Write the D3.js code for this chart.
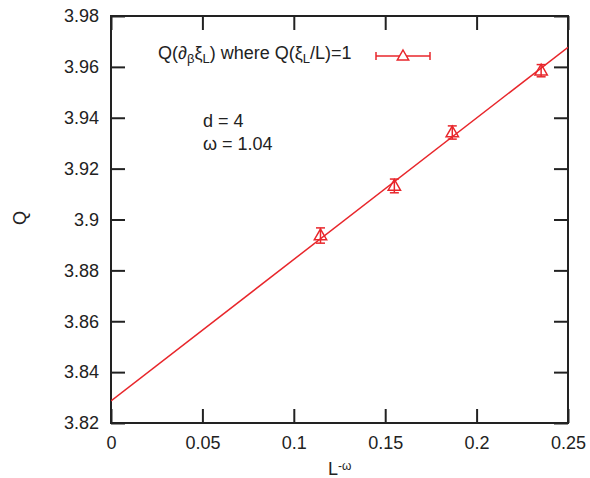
<!DOCTYPE html>
<html>
<head>
<meta charset="utf-8">
<script src="https://cdn.jsdelivr.net/npm/d3@7"></script>
<style>
  body { margin: 0; background: #fff; }
  text { font-family: "Liberation Sans", Arial, sans-serif; fill: #222; }
</style>
</head>
<body>
<svg id="chart" width="590" height="478"></svg>
<script>
// Measured Q at the crossing point versus L^-omega
const xValues = [0.1146, 0.155, 0.1867, 0.2353];
const yValues = [3.8937, 3.9132, 3.9342, 3.9585];
const yErrors = [0.003, 0.0027, 0.0026, 0.0024];

// Linear fit Q = a + b * L^-omega
const fitIntercept = 3.8287;
const fitSlope = 0.556;

const xTicks = [0, 0.05, 0.1, 0.15, 0.2, 0.25];
const yTicks = [3.82, 3.84, 3.86, 3.88, 3.9, 3.92, 3.94, 3.96, 3.98];

const red = "#e8262b";
const svg = d3.select("#chart");
const m = { left: 111, right: 568, top: 16, bottom: 423 };

const x = d3.scaleLinear().domain([0, 0.25]).range([m.left, m.right]);
const y = d3.scaleLinear().domain([3.82, 3.98]).range([m.bottom, m.top]);

const tickLen = 14;
const fmt = d => d3.format("")(+d.toFixed(3));

// Axes with inward ticks on all four sides
svg.append("g").attr("transform", `translate(0,${m.bottom})`)
  .call(d3.axisBottom(x).tickValues(xTicks).tickSizeInner(-tickLen).tickSizeOuter(0).tickPadding(13).tickFormat(fmt));
svg.append("g").attr("transform", `translate(0,${m.top})`)
  .call(d3.axisTop(x).tickValues(xTicks).tickSizeInner(-tickLen).tickSizeOuter(0).tickFormat(""));
svg.append("g").attr("transform", `translate(${m.left},0)`)
  .call(d3.axisLeft(y).tickValues(yTicks).tickSizeInner(-tickLen).tickSizeOuter(0).tickPadding(12).tickFormat(fmt));
svg.append("g").attr("transform", `translate(${m.right},0)`)
  .call(d3.axisRight(y).tickValues(yTicks).tickSizeInner(-tickLen).tickSizeOuter(0).tickFormat(""));

svg.selectAll(".domain").remove();
svg.selectAll(".tick line").attr("stroke", "#222").attr("stroke-width", 2);
svg.selectAll(".tick text").style("font-size", "18px").attr("fill", "#222");

// Frame
svg.append("rect")
  .attr("x", m.left).attr("y", m.top)
  .attr("width", m.right - m.left).attr("height", m.bottom - m.top)
  .attr("fill", "none").attr("stroke", "#222").attr("stroke-width", 2);

// Fit line
svg.append("clipPath").attr("id", "plotclip").append("rect")
  .attr("x", m.left).attr("y", m.top).attr("width", m.right - m.left).attr("height", m.bottom - m.top);
svg.append("line")
  .attr("clip-path", "url(#plotclip)")
  .attr("x1", x(0)).attr("y1", y(fitIntercept))
  .attr("x2", x(0.25)).attr("y2", y(fitIntercept + fitSlope * 0.25))
  .attr("stroke", red).attr("stroke-width", 1.5);

// Data points with error bars
const pts = xValues.map((v, i) => ({ x: v, y: yValues[i], e: yErrors[i] }));
const capW = 4.5;
const triangle = (cx, cy, s) => `M${cx},${cy - s}L${cx + s * 0.95},${cy + s * 0.65}L${cx - s * 0.95},${cy + s * 0.65}Z`;
const g = svg.append("g");
pts.forEach(p => {
  const cx = x(p.x);
  g.append("line").attr("x1", cx).attr("x2", cx).attr("y1", y(p.y - p.e)).attr("y2", y(p.y + p.e))
    .attr("stroke", red).attr("stroke-width", 1.5);
  [p.y - p.e, p.y + p.e].forEach(v => g.append("line")
    .attr("x1", cx - capW).attr("x2", cx + capW).attr("y1", y(v)).attr("y2", y(v))
    .attr("stroke", red).attr("stroke-width", 1.5));
  g.append("path").attr("d", triangle(cx, y(p.y), 6.5))
    .attr("fill", "none").attr("stroke", red).attr("stroke-width", 1.5);
});

// Legend
const legend = svg.append("g");
const lt = legend.append("text").attr("x", 158).attr("y", 59).style("font-size", "18px");
lt.append("tspan").text("Q(\u2202");
lt.append("tspan").attr("baseline-shift", "-30%").style("font-size", "13px").text("\u03b2");
lt.append("tspan").text("\u03be");
lt.append("tspan").attr("baseline-shift", "-30%").style("font-size", "13px").text("L");
lt.append("tspan").text(") where Q(\u03be");
lt.append("tspan").attr("baseline-shift", "-30%").style("font-size", "13px").text("L");
lt.append("tspan").text("/L)=1");
const ly = 56, lx1 = 376, lx2 = 430, lxc = 403;
legend.append("line").attr("x1", lx1).attr("x2", lx2).attr("y1", ly).attr("y2", ly).attr("stroke", red).attr("stroke-width", 1.5);
[lx1, lx2].forEach(xx => legend.append("line").attr("x1", xx).attr("x2", xx).attr("y1", ly - 4).attr("y2", ly + 4).attr("stroke", red).attr("stroke-width", 1.5));
legend.append("path").attr("d", triangle(lxc, ly, 6)).attr("fill", "#fff").attr("stroke", red).attr("stroke-width", 1.5);

// Annotations
svg.append("text").attr("x", 203).attr("y", 127).style("font-size", "18px").text("d = 4");
svg.append("text").attr("x", 203).attr("y", 150).style("font-size", "18px").text("\u03c9 = 1.04");

// Axis titles
const xt = svg.append("text").attr("x", 328).attr("y", 475).style("font-size", "18px");
xt.append("tspan").text("L");
xt.append("tspan").attr("baseline-shift", "45%").style("font-size", "12px").text("-\u03c9");
svg.append("text").attr("transform", "translate(26,218) rotate(-90)")
  .attr("text-anchor", "middle").style("font-size", "18px").text("Q");
</script>
</body>
</html>
